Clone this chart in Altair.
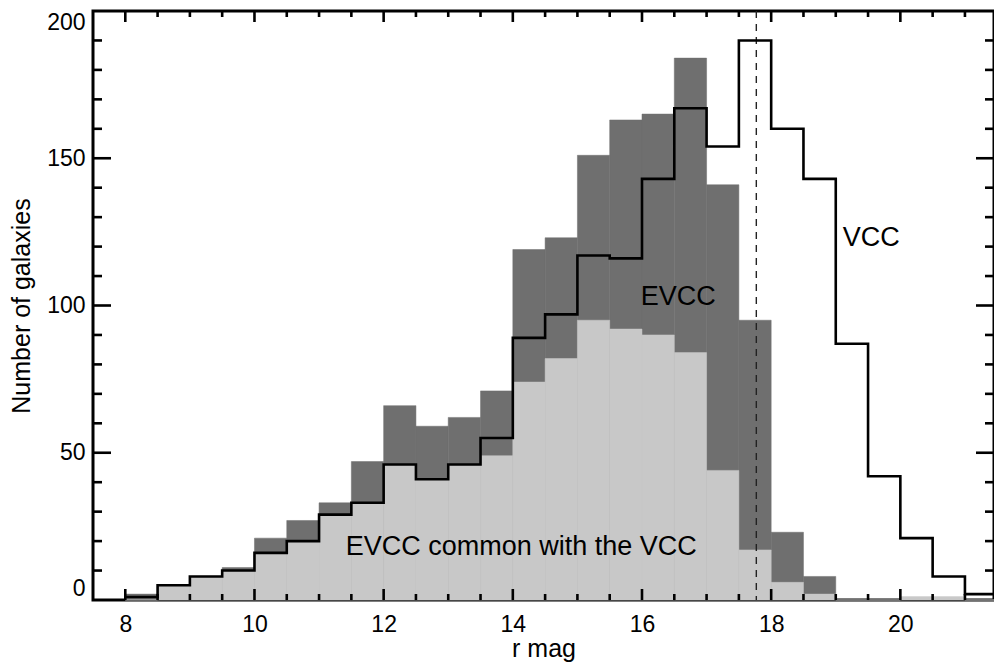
import altair as alt
import pandas as pd

# ---------------- data ----------------
bin_left = [8.0, 8.5, 9.0, 9.5, 10.0, 10.5, 11.0, 11.5, 12.0, 12.5, 13.0, 13.5,
            14.0, 14.5, 15.0, 15.5, 16.0, 16.5, 17.0, 17.5, 18.0, 18.5, 19.0,
            19.5, 20.0, 20.5, 21.0]
bin_width = 0.5
vcc = [1, 5, 8, 10, 16, 20, 29, 33, 46, 41, 46, 55,
       89, 97, 117, 116, 143, 167, 154, 190, 160, 143, 87,
       42, 21, 8, 2]
evcc = [2, 5, 8, 11, 21, 27, 33, 47, 66, 59, 62, 71,
        119, 123, 151, 163, 165, 184, 141, 95, 23, 8, 0,
        0, 1, 1, 0]
common = [0, 5, 8, 10, 16, 20, 29, 33, 46, 41, 46, 49,
          74, 82, 95, 92, 90, 84, 44, 17, 6, 2, 0,
          0, 1, 1, 0]

mag_limit = [17.77]

x_major_ticks = [8, 10, 12, 14, 16, 18, 20]
x_minor_ticks = [8.5, 9, 9.5, 10.5, 11, 11.5, 12.5, 13, 13.5, 14.5, 15, 15.5,
                 16.5, 17, 17.5, 18.5, 19, 19.5, 20.5, 21]
y_labels = [0, 50, 100, 150, 200]
y_major_ticks = [50, 100, 150]
y_minor_ticks = [10, 20, 30, 40, 60, 70, 80, 90, 110, 120, 130, 140,
                 160, 170, 180, 190]

ann_text = ["EVCC common with the VCC", "EVCC", "VCC"]
ann_x = [14.13, 16.56, 19.55]
ann_y = [18, 103, 123]

# ---------------- styling ----------------
W, H = 901, 589
XMIN_D, XMAX_D = 7.5, 21.45
YMIN_D, YMAX_D = 0, 200
FONT = "Liberation Sans"
DARK = "#6f6f6f"
LIGHT = "#c8c8c8"
TICK = "#000000"

xscale = alt.Scale(domain=[XMIN_D, XMAX_D], nice=False, zero=False)
yscale = alt.Scale(domain=[YMIN_D, YMAX_D], nice=False, zero=True)

xaxis = alt.Axis(values=x_major_ticks, title="r mag", ticks=False, domain=False,
                 grid=False, labelFont=FONT, labelFontSize=23, labelColor="black",
                 labelPadding=13, titleFont=FONT, titleFontSize=25,
                 titleFontWeight="normal", titleColor="black", titlePadding=0,
                 format="d")
yaxis = alt.Axis(values=y_labels, title="Number of galaxies", ticks=False,
                 domain=False, grid=False, labelFont=FONT, labelFontSize=23,
                 labelColor="black", labelPadding=8, labelFlush=True,
                 titleFont=FONT, titleFontSize=25, titleFontWeight="normal",
                 titleColor="black", titlePadding=12, format="d")


def X(f):
    return alt.X(f, type="quantitative", scale=xscale, axis=xaxis)


def Y(f):
    return alt.Y(f, type="quantitative", scale=yscale, axis=yaxis)


df = pd.DataFrame({
    "lo": bin_left,
    "hi": [b + bin_width for b in bin_left],
    "vcc": vcc,
    "evcc": evcc,
    "common": common,
    "zero": [0] * len(bin_left),
})

step_df = pd.DataFrame({
    "x": bin_left + [bin_left[-1] + bin_width],
    "y": vcc + [vcc[-1]],
})

evcc_bars = alt.Chart(df).mark_rect(color=DARK, stroke=DARK, strokeWidth=0.5).encode(
    x=X("lo"), x2="hi", y=Y("zero"), y2="evcc")
common_bars = alt.Chart(df).mark_rect(color=LIGHT, stroke=LIGHT, strokeWidth=0.5).encode(
    x=X("lo"), x2="hi", y=Y("zero"), y2="common")
vcc_line = alt.Chart(step_df).mark_line(
    interpolate="step-after", color="black", strokeWidth=2.6, clip=True).encode(
    x=X("x"), y=Y("y"))
limit = alt.Chart(pd.DataFrame({"m": mag_limit})).mark_rule(
    color="#222222", strokeWidth=1.4, strokeDash=[7, 6]).encode(x=X("m"))

ann = alt.Chart(pd.DataFrame({"t": ann_text, "x": ann_x, "y": ann_y})).mark_text(
    font=FONT, fontSize=27, color="black", align="center", baseline="middle").encode(
    x=X("x"), y=Y("y"), text="t")

# ---- inward ticks on all four sides, drawn as thin filled rectangles
px_x = W / (XMAX_D - XMIN_D)
px_y = H / (YMAX_D - YMIN_D)
XMAJ, XMIN, YMAJ, YMIN = 11, 6, 18, 9
TW = 2.6  # tick thickness in pixels
hx = (TW / 2) / px_x
hy = (TW / 2) / px_y

rows = []
for vals, L in ((x_major_ticks, XMAJ), (x_minor_ticks, XMIN)):
    d = L / px_y
    for t in vals:
        rows.append((t - hx, t + hx, YMIN_D, YMIN_D + d))   # bottom
        rows.append((t - hx, t + hx, YMAX_D - d, YMAX_D))   # top
for vals, L in ((y_major_ticks, YMAJ), (y_minor_ticks, YMIN)):
    d = L / px_x
    for t in vals:
        rows.append((XMIN_D, XMIN_D + d, t - hy, t + hy))   # left
        rows.append((XMAX_D - d, XMAX_D, t - hy, t + hy))   # right
tick_df = pd.DataFrame(rows, columns=["x0", "x1", "y0", "y1"])

ticks = alt.Chart(tick_df).mark_rect(color=TICK, strokeWidth=0).encode(
    x=X("x0"), x2="x1", y=Y("y0"), y2="y1")

chart = alt.layer(
    evcc_bars, common_bars, ticks, limit, vcc_line, ann
).properties(
    width=W, height=H,
    padding={"left": 93, "top": 11, "right": 0, "bottom": 64},
    autosize=alt.AutoSizeParams(type="none"),
    background="white",
).configure_view(stroke="black", strokeWidth=3)

chart.save("out.html", embed_options={"renderer": "svg", "actions": False})
